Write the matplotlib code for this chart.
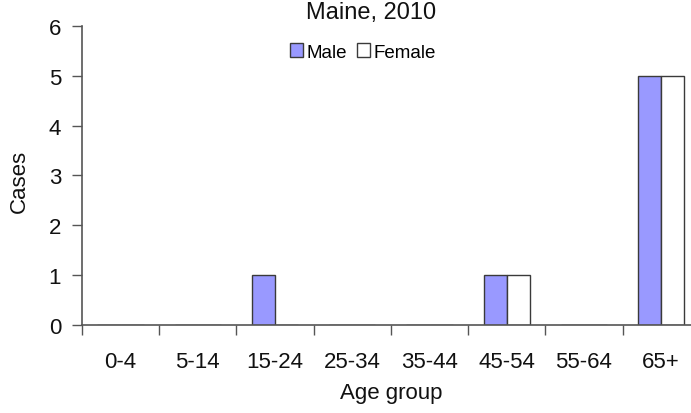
import numpy as np
import matplotlib
matplotlib.use("Agg")
import matplotlib.pyplot as plt
from matplotlib.patches import Patch

# Données : cas par groupe d'âge, Maine 2010
groupes = ["0-4", "5-14", "15-24", "25-34", "35-44", "45-54", "55-64", "65+"]
hommes = [0, 0, 1, 0, 0, 1, 0, 5]
femmes = [0, 0, 0, 0, 0, 1, 0, 5]

plt.rcParams['font.family'] = ['Liberation Sans', 'DejaVu Sans']

col_h = "#9999ff"
col_f = "#ffffff"
bord = "#3a3a3a"
axe = "#555555"

fig = plt.figure(figsize=(6.91, 4.14), dpi=100)
ax = fig.add_axes([0.1187, 0.2126, 0.894, 0.7222])

x = np.arange(len(groupes))
larg = 0.3
ax.bar(x - larg / 2, hommes, larg, color=col_h, edgecolor=bord, linewidth=1.0)
ax.bar(x + larg / 2, femmes, larg, color=col_f, edgecolor=bord, linewidth=1.0)

ax.set_xlim(-0.5, len(groupes) - 0.5)
ax.set_ylim(0, 6)
ax.set_yticks(range(7))

# ticks majeurs aux frontières, étiquettes au centre (ticks mineurs)
ax.set_xticks(np.arange(len(groupes) + 1) - 0.5)
ax.set_xticklabels([])
ax.set_xticks(x, minor=True)
ax.set_xticklabels(groupes, minor=True)
ax.tick_params(axis='x', which='major', length=7, width=1, color=axe, direction='out')
ax.tick_params(axis='x', which='minor', length=0, pad=19, labelsize=16, labelcolor='#111111')
ax.tick_params(axis='y', length=7, width=1, color=axe, pad=8, labelsize=16, labelcolor='#111111')

for s in ['top', 'right']:
    ax.spines[s].set_visible(False)
for s in ['left', 'bottom']:
    ax.spines[s].set_color(axe)
    ax.spines[s].set_linewidth(1.2)

ax.set_xlabel("Age group", fontsize=16, color='#111111', labelpad=7)
fig.text(19 / 691, 1 - 181 / 414, "Cases", rotation=90, fontsize=16,
         ha='center', va='center', color='#111111')

fig.text(371 / 691, 1 - 13 / 414, "Maine, 2010", fontsize=17,
         ha='center', va='center', color='#111111')

poignees = [Patch(facecolor=col_h, edgecolor=bord, linewidth=1.0, label="Male"),
            Patch(facecolor=col_f, edgecolor=bord, linewidth=1.0, label="Female")]
fig.legend(handles=poignees, loc='center', bbox_to_anchor=(363 / 691, 1 - 53 / 414),
           ncol=2, frameon=False, fontsize=13.5, handlelength=0.7, handleheight=0.7,
           handletextpad=0.2, columnspacing=0.5, borderpad=0)

fig.savefig("out.png", dpi=100)
